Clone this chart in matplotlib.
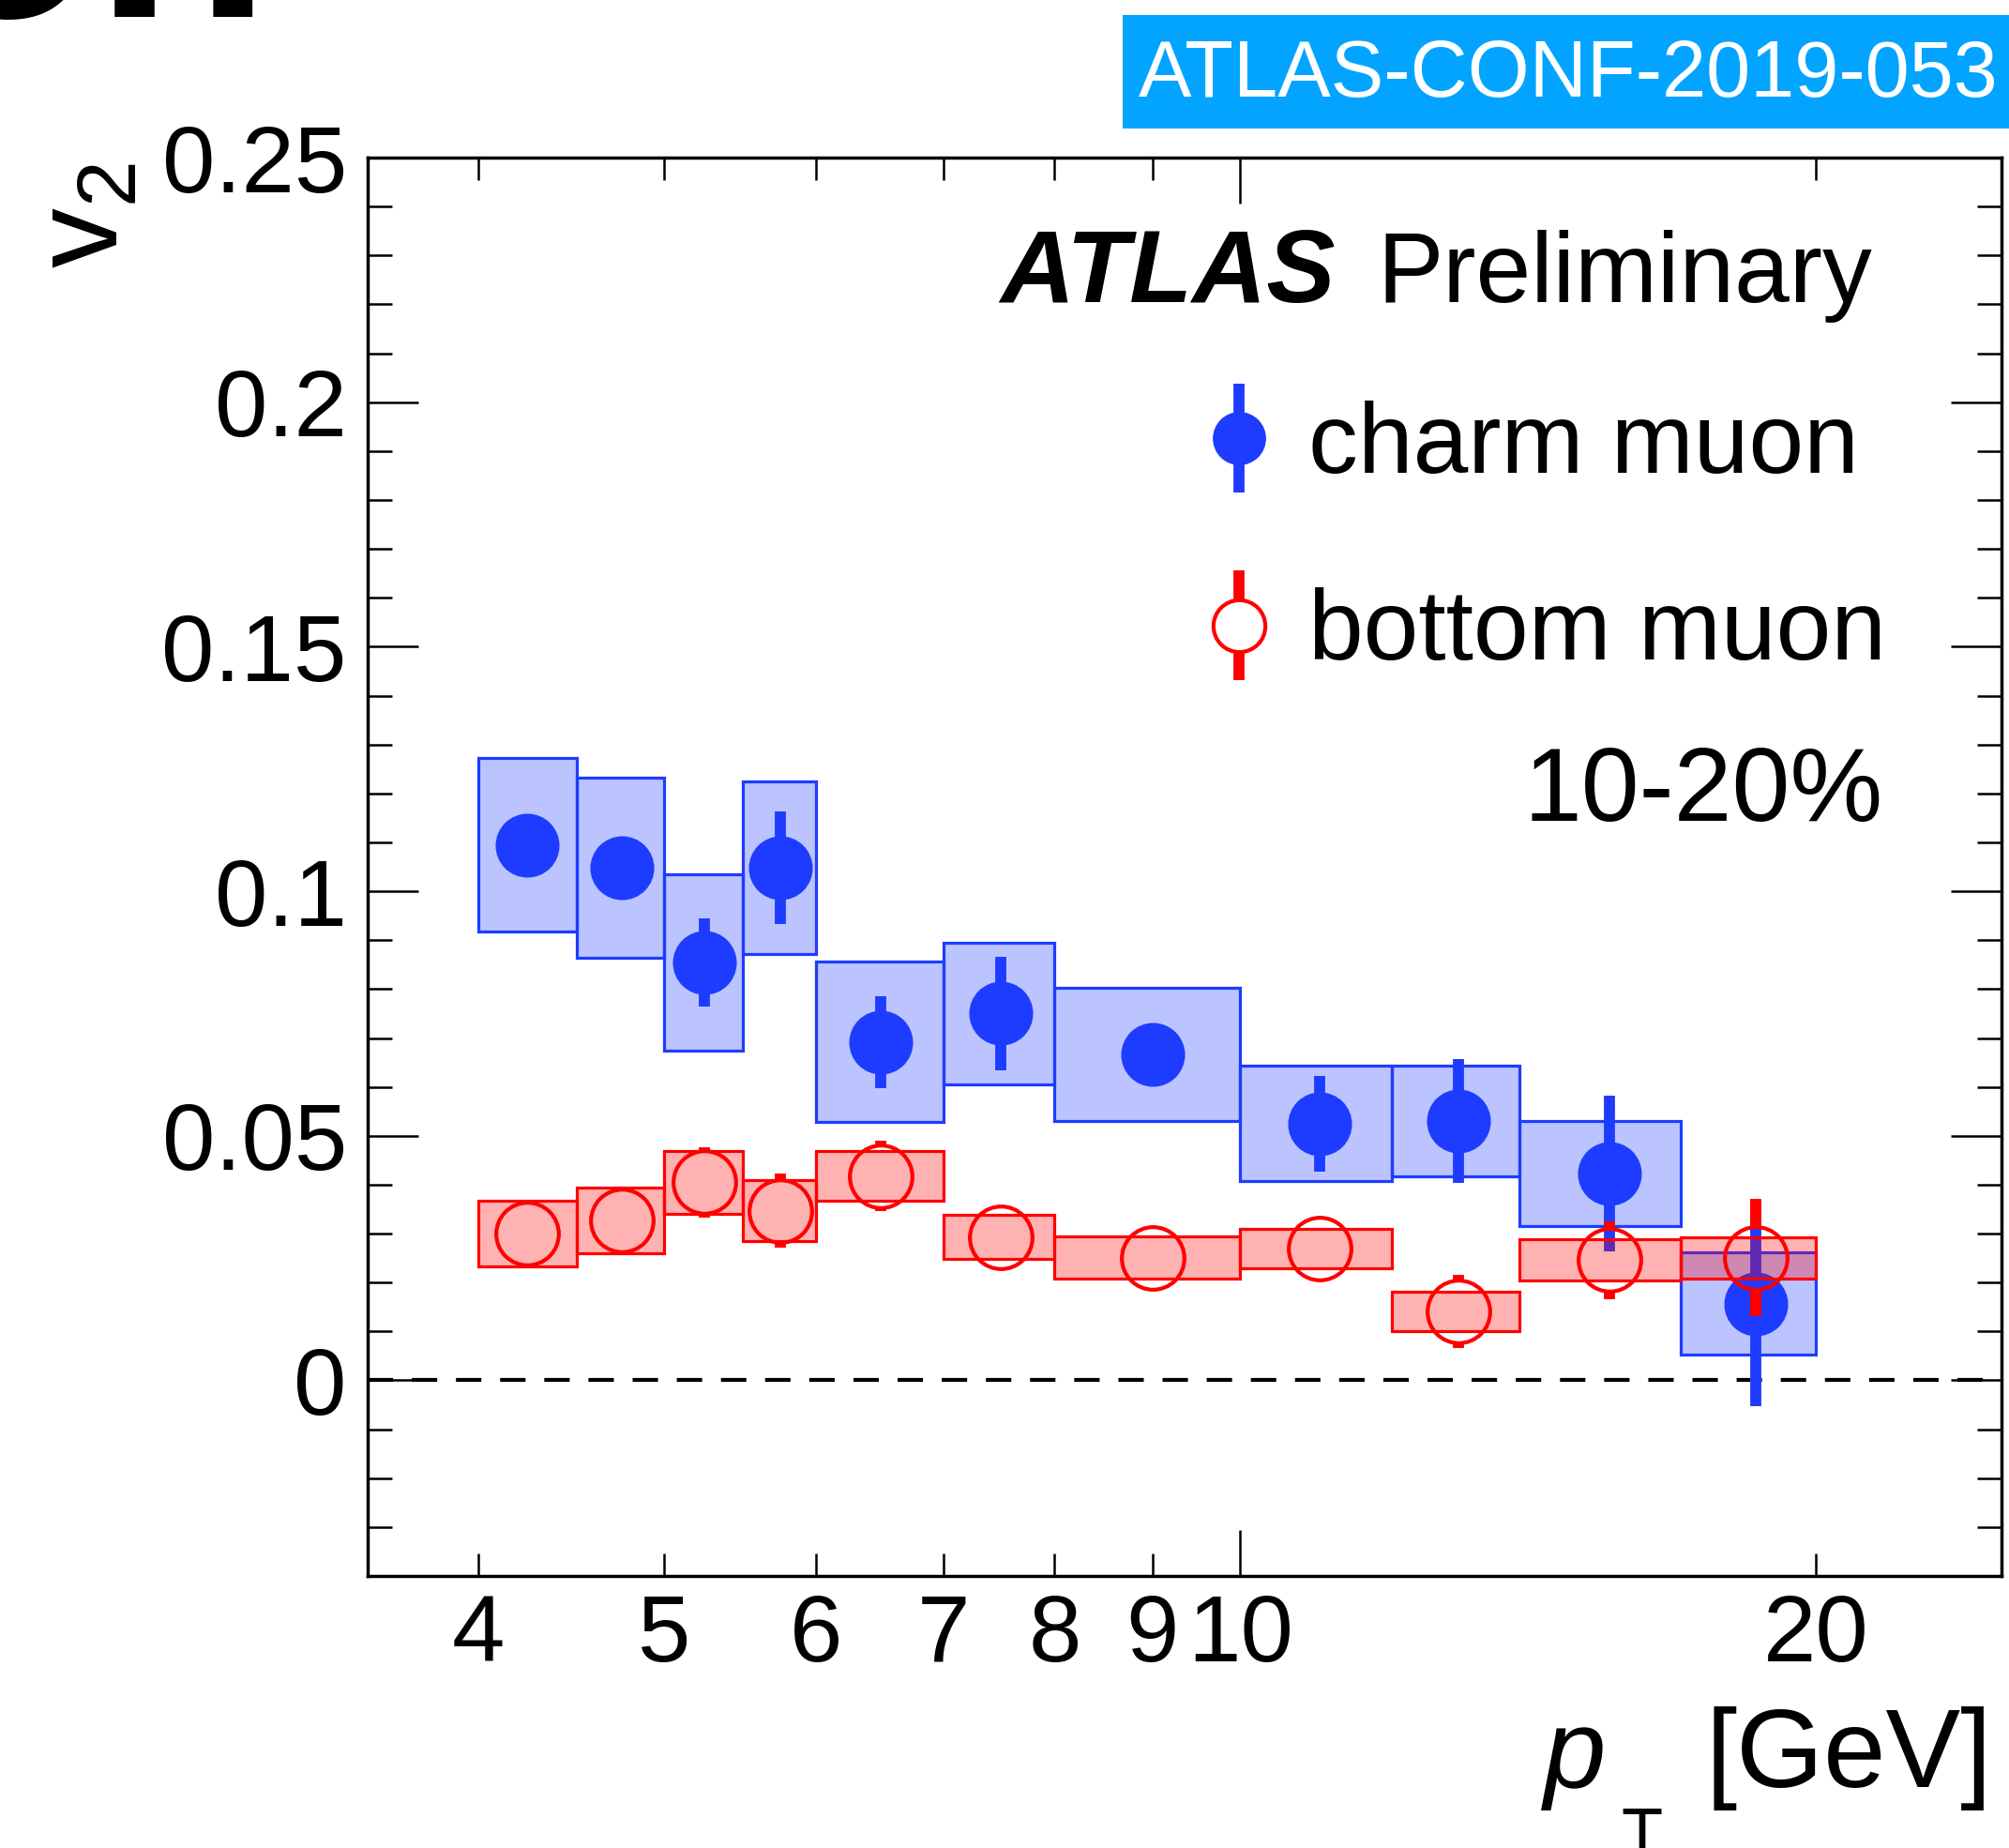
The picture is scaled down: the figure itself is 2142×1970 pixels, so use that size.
import matplotlib
matplotlib.use("Agg")
import matplotlib.pyplot as plt
import numpy as np
from matplotlib.ticker import MultipleLocator
from matplotlib.patches import Rectangle
from matplotlib.container import ErrorbarContainer
from matplotlib.legend_handler import HandlerErrorbar

plt.rcParams["font.family"] = ["Liberation Sans", "DejaVu Sans"]
plt.rcParams["mathtext.fontset"] = "custom"
plt.rcParams["mathtext.rm"] = "Liberation Sans"
plt.rcParams["mathtext.it"] = "Liberation Sans:italic"
plt.rcParams["mathtext.bf"] = "Liberation Sans:bold"

# pT bins [GeV] and bin centres
bin_lo = [4.0, 4.5, 5.0, 5.5, 6.0, 7.0, 8.0, 10.0, 12.0, 14.0, 17.0]
bin_hi = [4.5, 5.0, 5.5, 6.0, 7.0, 8.0, 10.0, 12.0, 14.0, 17.0, 20.0]
pt = [4.24, 4.75, 5.25, 5.75, 6.49, 7.5, 9.0, 11.0, 13.0, 15.6, 18.6]

# charm muon v2
v2_charm = [0.1095, 0.1048, 0.0854, 0.1048, 0.0692, 0.0750, 0.0666, 0.0525, 0.0530, 0.0423, 0.0157]
stat_charm = [0.004, 0.006, 0.009, 0.0115, 0.0094, 0.0116, 0.004, 0.0098, 0.0127, 0.016, 0.021]
sys_charm = [0.0177, 0.0184, 0.0180, 0.0176, 0.0164, 0.0145, 0.0136, 0.0118, 0.0113, 0.0107, 0.0105]

# bottom muon v2
v2_bottom = [0.0300, 0.0327, 0.0405, 0.0347, 0.0418, 0.0293, 0.0251, 0.0269, 0.0141, 0.0246, 0.0251]
stat_bottom = [0.004, 0.004, 0.0072, 0.0075, 0.0072, 0.004, 0.004, 0.004, 0.0075, 0.008, 0.012]
sys_bottom = [0.0067, 0.0067, 0.0064, 0.0062, 0.0050, 0.0045, 0.0043, 0.0040, 0.0040, 0.0042, 0.0042]

x_major = [10]
x_major_labels = ["10"]
x_minor = [4, 5, 6, 7, 8, 9, 20]
x_minor_labels = ["4", "5", "6", "7", "8", "9", "20"]
y_ticks = [0, 0.05, 0.1, 0.15, 0.2, 0.25]
y_tick_labels = ["0", "0.05", "0.1", "0.15", "0.2", "0.25"]

blue = "#1e3cff"
red = "#ff0000"
ms = 48
bar_lw = 8.5

fig = plt.figure(figsize=(21.42, 19.70), dpi=100)
ax = fig.add_axes([0.183, 0.1472, 0.8133, 0.7675])
ax.set_xscale("log")
ax.set_xlim(3.5, 25)
ax.set_ylim(-0.04, 0.25)

lo = np.array(bin_lo)
hi = np.array(bin_hi)

# charm: systematic boxes + statistical error bars
ax.bar(lo, 2 * np.array(sys_charm), width=hi - lo, bottom=np.array(v2_charm) - np.array(sys_charm),
       align="edge", facecolor=(30 / 255, 60 / 255, 1.0, 0.3), edgecolor=blue, linewidth=2.3, zorder=1)
eb_c = ax.errorbar(pt, v2_charm, yerr=stat_charm, fmt="o", ms=ms, color=blue, elinewidth=bar_lw,
                   capsize=0, zorder=2, label="charm muon")

# bottom: boxes, then open circles with the bar only outside the marker
ax.bar(lo, 2 * np.array(sys_bottom), width=hi - lo, bottom=np.array(v2_bottom) - np.array(sys_bottom),
       align="edge", facecolor=(1.0, 0.0, 0.0, 0.3), edgecolor=red, linewidth=2.3, zorder=3)
ylo, yhi = ax.get_ylim()
r = (ms / 2) * fig.dpi / 72 * (yhi - ylo) / ax.get_window_extent().height
vb = np.array(v2_bottom)
sb = np.array(stat_bottom)
out = sb > r
xb = np.array(pt)[out]
ax.vlines(xb, vb[out] + r, vb[out] + sb[out], color=red, lw=bar_lw, zorder=4)
ax.vlines(xb, vb[out] - sb[out], vb[out] - r, color=red, lw=bar_lw, zorder=4)
ax.plot(pt, v2_bottom, "o", ms=ms, mfc="none", mec=red, mew=3, ls="none", zorder=4)
# legend entry for the open marker
eb_b = ax.errorbar([np.nan], [np.nan], yerr=[0.01], fmt="o", ms=ms, mfc="white", mec=red, mew=3,
                   color=red, elinewidth=bar_lw, capsize=0, label="bottom muon")

ax.axhline(0, color="black", lw=3, ls=(0, (6.5, 4.8)), zorder=0.5)

# axes styling
for s in ax.spines.values():
    s.set_linewidth(2.5)
ax.set_xticks(x_major, x_major_labels)
ax.set_xticks(x_minor, x_minor_labels, minor=True)
ax.set_yticks(y_ticks, y_tick_labels)
ax.yaxis.set_minor_locator(MultipleLocator(0.01))
ax.tick_params(which="both", direction="in", top=True, right=True, width=1.8, labelsize=73)
ax.tick_params(axis="x", which="major", length=35, pad=13)
ax.tick_params(axis="x", which="minor", length=17, pad=13)
ax.tick_params(axis="y", which="major", length=39, pad=16)
ax.tick_params(axis="y", which="minor", length=19)

# axis titles
fig.text(0.043, 0.912, r"$\mathregular{v_2}$", rotation=90, ha="center", va="top", fontsize=92)
fig.text(1646 / 2142, 0.033, "p", fontstyle="italic", fontsize=86, va="baseline")
fig.text(1728 / 2142, -0.004, "T", fontsize=52, va="baseline")
fig.text(0.9916, 0.033, "[GeV]", ha="right", va="baseline", fontsize=86)

# labels
fig.text(1066 / 2142, 0.8365, "ATLAS", fontsize=79, fontweight="bold", fontstyle="italic")
fig.text(1468 / 2142, 0.8365, "Preliminary", fontsize=76)
fig.text(0.9374, 0.5706, "10-20%", fontsize=80, ha="right", va="center")

ax.legend(handles=[eb_c, eb_b], loc="upper left", bbox_to_anchor=(0.514, 0.8286),
          frameon=False, fontsize=76, borderpad=0, borderaxespad=0, handlelength=0.64,
          handletextpad=0.38, labelspacing=0.95, markerscale=0.83,
          handler_map={ErrorbarContainer: HandlerErrorbar(yerr_size=0.55)})

# conference note tag and slide title remnant
fig.patches.append(Rectangle((0.5588, 0.9305), 0.4412, 0.0614, transform=fig.transFigure,
                             facecolor="#02a4ff", edgecolor="none", zorder=0))
fig.text(0.7805, 0.959, "ATLAS-CONF-2019-053", color="white", fontsize=61, ha="center", va="center")
fig.text(-0.0397, 1 - 18 / 1970, "on", fontsize=220, fontweight="bold", va="baseline", ha="left")

fig.savefig("out.png", dpi=100)
